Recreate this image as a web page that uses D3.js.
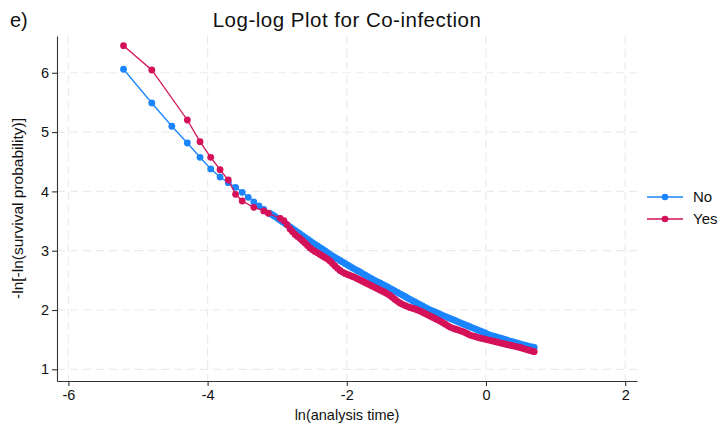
<!DOCTYPE html>
<html>
<head>
<meta charset="utf-8">
<script src="https://cdn.jsdelivr.net/npm/d3@7"></script>
<style>
  html, body { margin: 0; padding: 0; background: #fff; }
  svg { display: block; font-family: "Liberation Sans", Arial, Helvetica, sans-serif; }
</style>
</head>
<body>
<svg id="chart" width="720" height="432"></svg>
<script>
// ln(analysis time) and -ln[-ln(S(t))] for each co-infection group
const noLnTime = [
  -5.208, -4.802, -4.514, -4.291, -4.109, -3.955, -3.821, -3.703, -3.598, -3.503,
  -3.416, -3.336, -3.262, -3.193,
  -3.103, -3.067, -3.032, -2.996, -2.960, -2.924, -2.888, -2.852, -2.816, -2.780,
  -2.744, -2.708, -2.672, -2.637, -2.601, -2.565, -2.529, -2.493, -2.457, -2.421,
  -2.385, -2.349, -2.313, -2.277, -2.241, -2.206, -2.170, -2.134, -2.098, -2.062,
  -2.026, -1.990, -1.954, -1.918, -1.882, -1.846, -1.810, -1.775, -1.739, -1.703,
  -1.667, -1.631, -1.595, -1.559, -1.523, -1.487, -1.451, -1.415, -1.379, -1.343,
  -1.307, -1.272, -1.236, -1.200, -1.164, -1.128, -1.092, -1.056, -1.020, -0.984,
  -0.948, -0.912, -0.876, -0.841, -0.805, -0.769, -0.733, -0.697, -0.661, -0.625,
  -0.589, -0.553, -0.517, -0.481, -0.445, -0.410, -0.374, -0.338, -0.302, -0.266,
  -0.230, -0.194, -0.158, -0.122, -0.086, -0.050, -0.014, 0.021, 0.057, 0.093,
  0.129, 0.165, 0.201, 0.237, 0.273, 0.309, 0.345, 0.381, 0.417, 0.453,
  0.489, 0.524, 0.560, 0.596, 0.632, 0.663, 0.693
];
const noValue = [
  6.059, 5.491, 5.098, 4.816, 4.575, 4.378, 4.243, 4.147, 4.069, 3.985,
  3.900, 3.821, 3.754, 3.698,
  3.627, 3.602, 3.577, 3.548, 3.518, 3.489, 3.459, 3.430, 3.400, 3.371,
  3.341, 3.311, 3.282, 3.252, 3.223, 3.194, 3.164, 3.136, 3.108, 3.080,
  3.052, 3.024, 2.995, 2.967, 2.939, 2.912, 2.885, 2.860, 2.835, 2.810,
  2.784, 2.759, 2.734, 2.710, 2.686, 2.663, 2.641, 2.615, 2.590, 2.566,
  2.543, 2.520, 2.497, 2.476, 2.455, 2.432, 2.410, 2.388, 2.366, 2.343,
  2.320, 2.296, 2.273, 2.251, 2.228, 2.204, 2.180, 2.158, 2.135, 2.112,
  2.089, 2.068, 2.046, 2.023, 2.000, 1.983, 1.966, 1.947, 1.929, 1.911,
  1.894, 1.877, 1.860, 1.841, 1.823, 1.805, 1.788, 1.770, 1.752, 1.735,
  1.718, 1.700, 1.683, 1.665, 1.648, 1.630, 1.612, 1.595, 1.578, 1.565,
  1.553, 1.540, 1.528, 1.515, 1.503, 1.490, 1.477, 1.466, 1.454, 1.442,
  1.430, 1.418, 1.406, 1.395, 1.384, 1.376, 1.368
];

const yesLnTime = [
  -5.208, -4.802, -4.291, -4.109, -3.955, -3.821, -3.703, -3.598, -3.503, -3.336,
  -3.193, -3.128, -2.956, -2.903, -2.860,
  -2.816, -2.780, -2.744, -2.708, -2.672, -2.637, -2.601, -2.565, -2.529, -2.493,
  -2.457, -2.421, -2.385, -2.349, -2.313, -2.277, -2.241, -2.206, -2.170, -2.134,
  -2.098, -2.062, -2.026, -1.990, -1.954, -1.918, -1.882, -1.846, -1.810, -1.775,
  -1.739, -1.703, -1.667, -1.631, -1.595, -1.559, -1.523, -1.487, -1.451, -1.415,
  -1.379, -1.343, -1.307, -1.272, -1.236, -1.200, -1.164, -1.128, -1.092, -1.056,
  -1.020, -0.984, -0.948, -0.912, -0.876, -0.841, -0.805, -0.769, -0.733, -0.697,
  -0.661, -0.625, -0.589, -0.553, -0.517, -0.481, -0.445, -0.410, -0.374, -0.338,
  -0.302, -0.266, -0.230, -0.194, -0.158, -0.122, -0.086, -0.050, -0.014, 0.021,
  0.057, 0.093, 0.129, 0.165, 0.201, 0.237, 0.273, 0.309, 0.345, 0.381,
  0.417, 0.453, 0.489, 0.524, 0.560, 0.596, 0.632, 0.663, 0.693
];
const yesValue = [
  6.457, 6.047, 5.204, 4.838, 4.575, 4.366, 4.192, 3.951, 3.838, 3.732,
  3.670, 3.631, 3.546, 3.506, 3.440,
  3.366, 3.318, 3.273, 3.240, 3.206, 3.168, 3.130, 3.088, 3.046, 3.015,
  2.987, 2.962, 2.936, 2.911, 2.885, 2.858, 2.826, 2.785, 2.742, 2.702,
  2.666, 2.640, 2.616, 2.599, 2.582, 2.565, 2.548, 2.527, 2.506, 2.485,
  2.464, 2.443, 2.422, 2.401, 2.379, 2.358, 2.337, 2.316, 2.295, 2.271,
  2.245, 2.212, 2.177, 2.147, 2.118, 2.096, 2.076, 2.058, 2.042, 2.030,
  2.017, 2.000, 1.983, 1.962, 1.941, 1.920, 1.899, 1.878, 1.857, 1.836,
  1.815, 1.790, 1.764, 1.738, 1.713, 1.696, 1.680, 1.667, 1.654, 1.638,
  1.621, 1.600, 1.578, 1.565, 1.553, 1.540, 1.528, 1.518, 1.508, 1.498,
  1.489, 1.479, 1.469, 1.458, 1.447, 1.437, 1.427, 1.416, 1.406, 1.397,
  1.388, 1.378, 1.368, 1.355, 1.342, 1.330, 1.317, 1.307, 1.297
];

const groupNames = ["No", "Yes"];
const groupColors = ["#1a85ff", "#d41159"];
const xTicks = [-6, -4, -2, 0, 2];
const yTicks = [1, 2, 3, 4, 5, 6];

const series = [
  { name: groupNames[0], color: groupColors[0],
    points: noLnTime.map((t, i) => ({ t, v: noValue[i] })) },
  { name: groupNames[1], color: groupColors[1],
    points: yesLnTime.map((t, i) => ({ t, v: yesValue[i] })) }
];

const svg = d3.select("#chart");
const plotLeft = 57, plotRight = 637, plotTop = 36, plotBottom = 381;

const x = d3.scaleLinear().domain([-6.164, 2.17]).range([plotLeft, plotRight]);
const y = d3.scaleLinear().domain([0.803, 6.62]).range([plotBottom, plotTop]);

// dashed grid
const grid = svg.append("g").attr("stroke", "#ebebeb").attr("stroke-width", 1.2)
  .attr("stroke-dasharray", "8,5").attr("fill", "none");
grid.selectAll("line.v").data(xTicks).join("line").attr("class", "v")
  .attr("x1", d => x(d)).attr("x2", d => x(d)).attr("y1", plotTop).attr("y2", plotBottom);
grid.selectAll("line.h").data(yTicks).join("line").attr("class", "h")
  .attr("y1", d => y(d)).attr("y2", d => y(d)).attr("x1", plotLeft).attr("x2", plotRight);

// axes
const xAxis = svg.append("g").attr("transform", `translate(0,${plotBottom})`)
  .call(d3.axisBottom(x).tickValues(xTicks).tickFormat(d => String(d))
    .tickSize(5).tickSizeOuter(0).tickPadding(4));
const yAxis = svg.append("g").attr("transform", `translate(${plotLeft},0)`)
  .call(d3.axisLeft(y).tickValues(yTicks).tickFormat(d => String(d))
    .tickSize(5).tickSizeOuter(0).tickPadding(3));
[xAxis, yAxis].forEach(a => {
  a.select(".domain").attr("stroke", "#333").attr("stroke-width", 1.1);
  a.selectAll(".tick line").attr("stroke", "#333").attr("stroke-width", 1.1);
  a.selectAll(".tick text").attr("fill", "#111").style("font-size", "14.5px")
    .style("font-family", "'Liberation Sans', Arial, sans-serif");
});

// series: connecting line + markers
const line = d3.line().x(d => x(d.t)).y(d => y(d.v));
series.forEach(s => {
  const g = svg.append("g");
  g.append("path").datum(s.points).attr("d", line)
    .attr("fill", "none").attr("stroke", s.color).attr("stroke-width", 1.3);
  g.selectAll("circle").data(s.points).join("circle")
    .attr("cx", d => x(d.t)).attr("cy", d => y(d.v)).attr("r", 3.4)
    .attr("fill", s.color);
});

// titles
svg.append("text").attr("x", (plotLeft + plotRight) / 2).attr("y", 27)
  .attr("text-anchor", "middle").style("font-size", "20.5px")
  .style("letter-spacing", "0.5px").attr("fill", "#111")
  .text("Log-log Plot for Co-infection");
svg.append("text").attr("x", 10).attr("y", 27)
  .style("font-size", "20px").attr("fill", "#111").text("e)");
svg.append("text").attr("x", (plotLeft + plotRight) / 2).attr("y", 420)
  .attr("text-anchor", "middle").style("font-size", "14.5px").attr("fill", "#111")
  .text("ln(analysis time)");
svg.append("text")
  .attr("transform", `translate(23,${(plotTop + plotBottom) / 2}) rotate(-90)`)
  .attr("text-anchor", "middle").style("font-size", "15.5px").attr("fill", "#111")
  .text("-ln[-ln(survival probability)]");

// legend
const legend = svg.append("g");
series.forEach((s, i) => {
  const ly = 197 + i * 22;
  legend.append("line").attr("x1", 647).attr("x2", 683).attr("y1", ly).attr("y2", ly)
    .attr("stroke", s.color).attr("stroke-width", 1.3);
  legend.append("circle").attr("cx", 665).attr("cy", ly).attr("r", 3.3).attr("fill", s.color);
  legend.append("text").attr("x", 693).attr("y", ly + 5)
    .style("font-size", "15px").attr("fill", "#111").text(s.name);
});
</script>
</body>
</html>
